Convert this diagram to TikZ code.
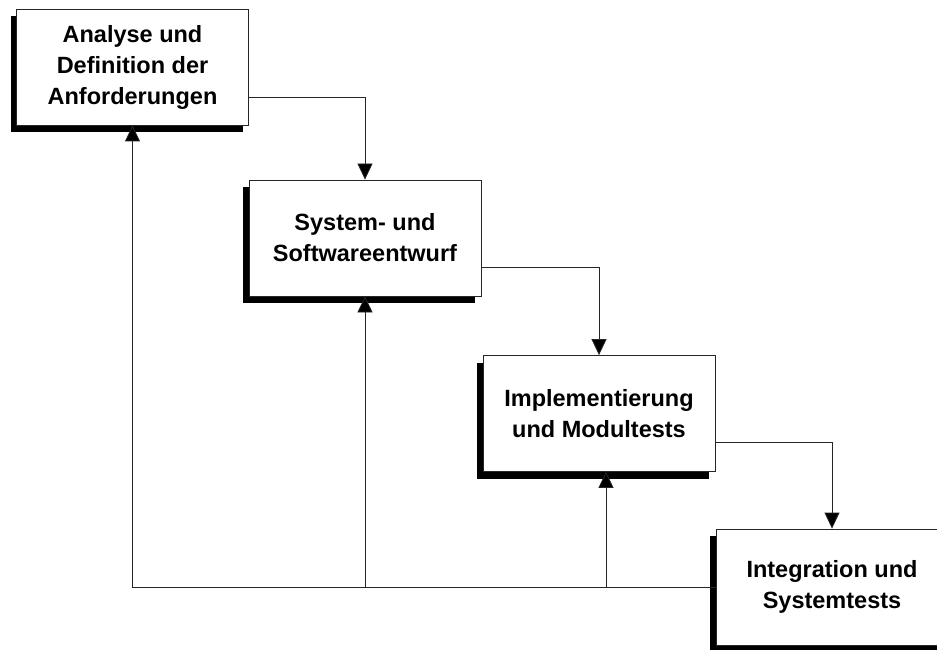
\documentclass[tikz,border=0pt]{standalone}
\usepackage{fontspec}
\setmainfont{Liberation Sans}
\usetikzlibrary{arrows.meta,shadows}

\begin{document}
\begin{tikzpicture}[x=1pt,y=-1pt,
  stage/.style={draw=black!85, line width=0.8pt, fill=white, inner sep=0pt,
    minimum width=232pt, minimum height=116pt, align=center,
    font=\bfseries\fontsize{23.5}{31}\selectfont,
    drop shadow={shadow xshift=-6pt, shadow yshift=-7pt, fill=black, opacity=1}},
  flow/.style={draw=black!85, line width=0.8pt, -{Triangle[length=16pt,width=15pt,fill=black]}}]
%
\useasboundingbox (0,0) rectangle (937,650);
\clip (0,0) rectangle (937,650);
% Phasen
\node[stage] (b1) at (132.5,67) {Analyse und\\Definition der\\Anforderungen};
\node[stage] (b2) at (365,238) {System- und\\Softwareentwurf};
\node[stage] (b3) at (599,413.5) {Implementierung\\und Modultests};
\node[stage] (b4) at (832,587) {Integration und\\Systemtests};

% weiter
\draw[flow] ([yshift=-30pt]b1.east) -| (b2.north);
\draw[flow] ([yshift=-29pt]b2.east) -| (b3.north);
\draw[flow] ([yshift=-29pt]b3.east) -| (b4.north);

% zurueck
\draw[flow] (b4.west) -| (b1.south);
\draw[flow] (b2.south |- b4.west) -- (b2.south);
\draw[flow] ([xshift=7pt]b3.south |- b4.west) -- ([xshift=7pt]b3.south);
\end{tikzpicture}
\end{document}
